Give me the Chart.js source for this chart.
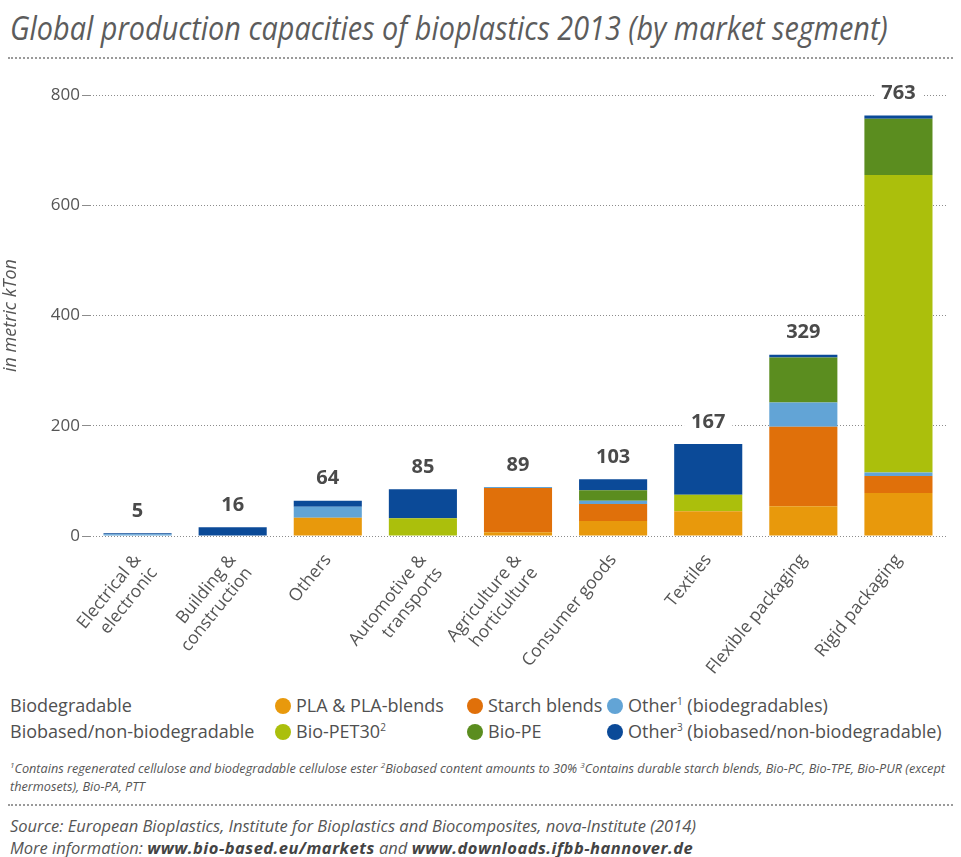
<!DOCTYPE html>
<html>
<head>
<meta charset="utf-8">
<script src="https://cdn.jsdelivr.net/npm/chart.js@4.4.1/dist/chart.umd.min.js"></script>
<style>
  body{margin:0;background:#fff;width:961px;height:857px;position:relative;overflow:hidden;font-family:'Open Sans',sans-serif;color:#555;}
  .title{position:absolute;left:10px;top:6px;font-style:italic;font-size:32px;color:#5c5c5c;white-space:nowrap;transform-origin:0 0;}
  .dots{position:absolute;left:8px;right:8px;border-top:2px dotted #9a9a9a;height:0;}
  #wrap{position:absolute;left:0;top:60px;width:961px;height:630px;}
  .leg{position:absolute;font-size:18px;color:#505050;white-space:nowrap;}
  .dot{display:inline-block;width:16px;height:16px;border-radius:50%;vertical-align:-2px;margin-right:5px;}
  sup{font-size:10px;vertical-align:7px;line-height:0;}
  .note{position:absolute;left:10px;font-style:italic;font-size:12.5px;color:#555;white-space:nowrap;transform-origin:0 0;}
  .note sup{font-size:8px;vertical-align:5px;}
  .src{position:absolute;left:10px;font-style:italic;font-size:16.5px;color:#555;white-space:nowrap;}
  .src b{color:#444;letter-spacing:0.5px;}
</style>
</head>
<body>
<div class="title" data-w="878">Global production capacities of bioplastics 2013 (by market segment)</div>
<div class="dots" style="top:57px"></div>
<div id="wrap"><canvas id="chartCap"></canvas></div>

<div class="leg" style="left:10px;top:693px">Biodegradable</div>
<div class="leg" style="left:10px;top:719px">Biobased/non-biodegradable</div>
<div class="leg" style="left:275px;top:693px"><span class="dot" style="background:#e8990c"></span>PLA &amp; PLA-blends</div>
<div class="leg" style="left:467px;top:693px"><span class="dot" style="background:#e0700a"></span>Starch blends</div>
<div class="leg" style="left:607px;top:693px"><span class="dot" style="background:#62a4d6"></span>Other<sup>1</sup> (biodegradables)</div>
<div class="leg" style="left:275px;top:719px"><span class="dot" style="background:#abbf0c"></span>Bio-PET30<sup>2</sup></div>
<div class="leg" style="left:467px;top:719px"><span class="dot" style="background:#5b8d1f"></span>Bio-PE</div>
<div class="leg" style="left:607px;top:719px"><span class="dot" style="background:#0b4a98"></span>Other<sup>3</sup> (biobased/non-biodegradable)</div>

<div class="note" data-w="935" style="top:760px"><sup>1</sup>Contains regenerated cellulose and biodegradable cellulose ester <sup>2</sup>Biobased content amounts to 30% <sup>3</sup>Contains durable starch blends, Bio-PC, Bio-TPE, Bio-PUR (except</div>
<div class="note" style="top:778px">thermosets), Bio-PA, PTT</div>
<div class="dots" style="top:804px"></div>
<div class="src" style="top:814px">Source: European Bioplastics, Institute for Bioplastics and Biocomposites, nova-Institute (2014)</div>
<div class="src" style="top:836px">More information: <b>www.bio-based.eu/markets</b> and <b>www.downloads.ifbb-hannover.de</b></div>

<script>
// market segments and capacities in metric kTon
const segments=[['Electrical &','electronic'],['Building &','construction'],'Others',['Automotive &','transports'],['Agriculture &','horticulture'],'Consumer goods','Textiles','Flexible packaging','Rigid packaging'];
const plaBlends =[0,0,33,0,7,27,45,54,78];
const starch    =[0,0,0,0,80,31,0,144,31];
const otherBio  =[3,0,20,0,2,6,0,44,6];
const bioPet30  =[0,0,0,32,0,0,30,0,540];
const bioPe     =[0,0,0,0,0,19,0,82,102];
const otherBased=[2,16,11,53,0,20,92,5,6];
const totals    =[5,16,64,85,89,103,167,329,763];
const yTicks    =[0,200,400,600,800];

// squeeze wide text lines to their set width (condensed look)
document.querySelectorAll('[data-w]').forEach(el=>{
  const k=Number(el.dataset.w)/el.offsetWidth;
  el.style.transform=`scaleX(${k})`;
});
// the second footnote line uses the same squeeze as the first
const noteEls=document.querySelectorAll('.note');
noteEls[1].style.transform=noteEls[0].style.transform;

Chart.defaults.font.family="'Open Sans', sans-serif";
Chart.defaults.color='#555';

const grey='#8c8c8c';

// totals printed above each stack, with a white box so the dotted grid breaks
const totalLabels={
  id:'totalLabels',
  afterDatasetsDraw(chart){
    const {ctx,scales:{x,y}}=chart;
    ctx.save();
    ctx.font="bold 20px 'Open Sans', sans-serif";
    ctx.textAlign='center';
    ctx.textBaseline='middle';
    totals.forEach((t,i)=>{
      const px=x.getPixelForValue(i);
      const py=y.getPixelForValue(t)-22;
      const w=ctx.measureText(String(t)).width+14;
      ctx.fillStyle='#fff';
      ctx.fillRect(px-w/2,py-11,w,22);
      ctx.fillStyle='#4a4a4a';
      ctx.fillText(String(t),px,py);
    });
    ctx.restore();
  }
};

const ds=(label,data,color)=>({label,data,backgroundColor:color,borderWidth:0,categoryPercentage:1,barPercentage:0.716});

new Chart(document.getElementById('chartCap').getContext('2d'),{
  type:'bar',
  data:{
    labels:segments,
    datasets:[
      ds('PLA & PLA-blends',plaBlends,'#e8990c'),
      ds('Starch blends',starch,'#e0700a'),
      ds('Other (biodegradables)',otherBio,'#62a4d6'),
      ds('Bio-PET30',bioPet30,'#abbf0c'),
      ds('Bio-PE',bioPe,'#5b8d1f'),
      ds('Other (biobased/non-biodegradable)',otherBased,'#0b4a98')
    ]
  },
  options:{
    responsive:true,
    maintainAspectRatio:false,
    animation:false,
    layout:{padding:{top:35,right:15,left:0,bottom:0}},
    plugins:{legend:{display:false},tooltip:{enabled:false}},
    scales:{
      x:{
        stacked:true,
        grid:{display:false},
        border:{display:false},
        ticks:{color:'#555',font:{size:17.5},minRotation:51,maxRotation:51,padding:6,autoSkip:false},
        afterFit(s){s.height=154;}
      },
      y:{
        stacked:true,
        min:0,max:800,
        afterBuildTicks(s){s.ticks=yTicks.map(v=>({value:v}));},
        ticks:{color:'#555',font:{size:17},padding:2},
        grid:{color:grey,lineWidth:1,tickColor:grey,tickLength:8},
        border:{display:false,dash:[1,2]},
        title:{display:true,text:'in metric kTon',color:'#555',font:{size:18,style:'italic'},padding:{top:0,bottom:6}},
        afterFit(s){s.width=90;}
      }
    }
  },
  plugins:[totalLabels]
});
</script>
</body>
</html>
